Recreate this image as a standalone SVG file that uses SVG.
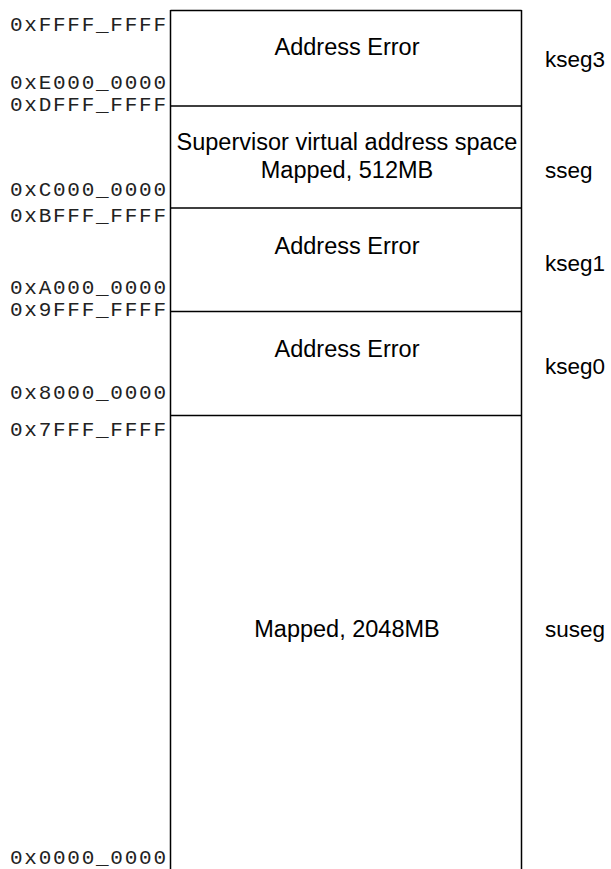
<svg xmlns="http://www.w3.org/2000/svg" width="611" height="869" viewBox="0 0 611 869">
<style>
.addr{font-family:"Liberation Mono","Courier New",monospace;font-size:21px;fill:#222;text-anchor:end}
.lbl{font-family:"Liberation Sans",Arial,Helvetica,sans-serif;font-size:23.5px;fill:#000;text-anchor:middle}
.seg{font-family:"Liberation Sans",Arial,Helvetica,sans-serif;font-size:22.5px;fill:#000;text-anchor:start}
.ln{stroke:#000;stroke-width:1.5;fill:none}
</style>
<rect width="611" height="869" fill="#fff"/>
<g id="connectors">
<path class="ln" d="M170.5,10 V869 M521.5,10 V869 M170.5,10.5 H521.5 M170.5,106 H521.5 M170.5,208 H521.5 M170.5,311.5 H521.5 M170.5,415.5 H521.5"/>
</g>
<g id="kseg3">
<text class="addr" x="166" y="31" textLength="156" lengthAdjust="spacing">0xFFFF_FFFF</text>
<text class="addr" x="166" y="89" textLength="156" lengthAdjust="spacing">0xE000_0000</text>
<text class="lbl" x="347" y="55">Address Error</text>
<text class="seg" x="545" y="67">kseg3</text>
</g>
<g id="sseg">
<text class="addr" x="166" y="111" textLength="156" lengthAdjust="spacing">0xDFFF_FFFF</text>
<text class="addr" x="166" y="196" textLength="156" lengthAdjust="spacing">0xC000_0000</text>
<text class="lbl" x="347" y="150">Supervisor virtual address space</text>
<text class="lbl" x="347" y="178">Mapped, 512MB</text>
<text class="seg" x="545" y="178">sseg</text>
</g>
<g id="kseg1">
<text class="addr" x="166" y="222" textLength="156" lengthAdjust="spacing">0xBFFF_FFFF</text>
<text class="addr" x="166" y="294" textLength="156" lengthAdjust="spacing">0xA000_0000</text>
<text class="lbl" x="347" y="254">Address Error</text>
<text class="seg" x="545" y="271">kseg1</text>
</g>
<g id="kseg0">
<text class="addr" x="166" y="316" textLength="156" lengthAdjust="spacing">0x9FFF_FFFF</text>
<text class="addr" x="166" y="399" textLength="156" lengthAdjust="spacing">0x8000_0000</text>
<text class="lbl" x="347" y="357">Address Error</text>
<text class="seg" x="545" y="374">kseg0</text>
</g>
<g id="suseg">
<text class="addr" x="166" y="436" textLength="156" lengthAdjust="spacing">0x7FFF_FFFF</text>
<text class="addr" x="166" y="864" textLength="156" lengthAdjust="spacing">0x0000_0000</text>
<text class="lbl" x="347" y="637">Mapped, 2048MB</text>
<text class="seg" x="545" y="637">suseg</text>
</g>
</svg>
